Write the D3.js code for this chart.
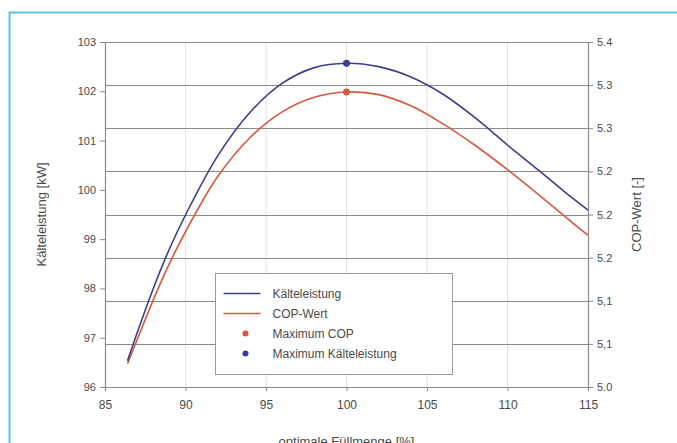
<!DOCTYPE html>
<html>
<head>
<meta charset="utf-8">
<script src="https://cdn.jsdelivr.net/npm/d3@7"></script>
<style>
  body { margin: 0; background: #fff; }
  svg { display: block; font-family: "Liberation Sans", Arial, sans-serif; }
</style>
</head>
<body>
<div id="chart"></div>
<script>

// data variables
var fuellmenge = [86.4, 87, 88, 89, 90, 92, 94, 96, 98, 100, 102, 104, 106, 108, 110, 112, 114, 115];
var kaelteleistung = [96.53, 97.10, 98.00, 98.80, 99.49, 100.69, 101.57, 102.16, 102.48, 102.57, 102.50, 102.29, 101.94, 101.46, 100.91, 100.38, 99.84, 99.59];
var copWert = [5.027, 5.055, 5.101, 5.143, 5.180, 5.244, 5.289, 5.319, 5.336, 5.342, 5.339, 5.326, 5.305, 5.280, 5.252, 5.222, 5.191, 5.176];

var xTicks = [85, 90, 95, 100, 105, 110, 115];
var leftTicks = [96, 97, 98, 99, 100, 101, 102, 103];
var rightTicks = [5.0, 5.05, 5.1, 5.15, 5.2, 5.25, 5.3, 5.35, 5.4];
var rightLabels = ["5.0", "5,1", "5,1", "5.2", "5.2", "5.2", "5.3", "5.3", "5.4"];

var legendItems = ["Kälteleistung", "COP-Wert", "Maximum COP", "Maximum Kälteleistung"];

// svg variables
var width = 677,
    height = 443;

var plot = {left: 105, right: 588, top: 42, bottom: 387};

var blue = "#3c3f8e",
    red = "#d9583c",
    gridColor = "#8a8a8a",
    textColor = "#4a4a4a";

var svg = d3.select("#chart")
  .append("svg")
  .attr("width", width)
  .attr("height", height);

// outer frame
svg.append("rect")
  .attr("x", 9.5)
  .attr("y", 12.5)
  .attr("width", 700)
  .attr("height", 500)
  .attr("fill", "#fff")
  .attr("stroke", "#55c1ec")
  .attr("stroke-width", 2);

/////////////////////////////
// scales
/////////////////////////////
var x = d3.scaleLinear().domain([85, 115]).range([plot.left, plot.right]);
var yLeft = d3.scaleLinear().domain([96, 103]).range([plot.bottom, plot.top]);
var yRight = d3.scaleLinear().domain([5.0, 5.4]).range([plot.bottom, plot.top]);

// vertical gridlines (faint)
svg.append("g")
  .selectAll("line")
  .data(xTicks.slice(1, -1))
  .enter()
  .append("line")
  .attr("x1", function(d) { return x(d); })
  .attr("x2", function(d) { return x(d); })
  .attr("y1", plot.top)
  .attr("y2", plot.bottom)
  .attr("stroke", "#e2e2e2")
  .attr("stroke-width", 1);

// horizontal gridlines follow the right axis
svg.append("g")
  .selectAll("line")
  .data(rightTicks)
  .enter()
  .append("line")
  .attr("x1", plot.left)
  .attr("x2", plot.right)
  .attr("y1", function(d) { return Math.round(yRight(d)) + 0.5; })
  .attr("y2", function(d) { return Math.round(yRight(d)) + 0.5; })
  .attr("stroke", gridColor)
  .attr("stroke-width", 1.2);

/////////////////////////////
// axes
/////////////////////////////
var xAxis = d3.axisBottom(x).tickValues(xTicks).tickSize(4).tickPadding(9);
var leftAxis = d3.axisLeft(yLeft).tickValues(leftTicks).tickSize(5).tickPadding(4)
  .tickFormat(d3.format("d"));
var rightAxis = d3.axisRight(yRight).tickValues(rightTicks).tickSize(5).tickPadding(4)
  .tickFormat(function(d, i) { return rightLabels[i]; });

function styleAxis(g) {
  g.select(".domain").attr("stroke", gridColor).attr("stroke-width", 1.2);
  g.selectAll(".tick line").attr("stroke", gridColor);
  g.selectAll("text").attr("fill", textColor).style("font-size", "11px");
}

svg.append("g")
  .attr("transform", "translate(0," + plot.bottom + ")")
  .call(xAxis)
  .call(styleAxis)
  .selectAll("text").style("font-size", "12px");

svg.append("g")
  .attr("transform", "translate(" + plot.left + ",0)")
  .call(leftAxis)
  .call(styleAxis);

svg.append("g")
  .attr("transform", "translate(" + plot.right + ",0)")
  .call(rightAxis)
  .call(styleAxis);

// axis titles
svg.append("text")
  .attr("transform", "translate(46," + ((plot.top + plot.bottom) / 2) + ") rotate(-90)")
  .attr("text-anchor", "middle")
  .attr("fill", textColor)
  .style("font-size", "13px")
  .text("Kälteleistung [kW]");

svg.append("text")
  .attr("transform", "translate(641," + ((plot.top + plot.bottom) / 2) + ") rotate(-90)")
  .attr("text-anchor", "middle")
  .attr("fill", textColor)
  .style("font-size", "13px")
  .text("COP-Wert [-]");

// bottom title is cut by the window edge, as in the original
svg.append("text")
  .attr("x", (plot.left + plot.right) / 2)
  .attr("y", 446)
  .attr("text-anchor", "middle")
  .attr("fill", textColor)
  .style("font-size", "13px")
  .text("optimale Füllmenge [%]");

/////////////////////////////
// lines
/////////////////////////////
var blueLine = d3.line()
  .x(function(d, i) { return x(fuellmenge[i]); })
  .y(function(d) { return yLeft(d); })
  .curve(d3.curveCatmullRom);

var redLine = d3.line()
  .x(function(d, i) { return x(fuellmenge[i]); })
  .y(function(d) { return yRight(d); })
  .curve(d3.curveCatmullRom);

svg.append("path")
  .datum(copWert)
  .attr("d", redLine)
  .attr("fill", "none")
  .attr("stroke", red)
  .attr("stroke-width", 1.6);

svg.append("path")
  .datum(kaelteleistung)
  .attr("d", blueLine)
  .attr("fill", "none")
  .attr("stroke", blue)
  .attr("stroke-width", 1.6);

// maximum markers
var iMaxCop = d3.maxIndex(copWert);
var iMaxKl = d3.maxIndex(kaelteleistung);

svg.append("circle")
  .attr("cx", x(fuellmenge[iMaxCop]))
  .attr("cy", yRight(copWert[iMaxCop]))
  .attr("r", 3.5)
  .attr("fill", red);

svg.append("circle")
  .attr("cx", x(fuellmenge[iMaxKl]))
  .attr("cy", yLeft(kaelteleistung[iMaxKl]))
  .attr("r", 3.5)
  .attr("fill", blue);

/////////////////////////////
// legend
/////////////////////////////
var legend = svg.append("g").attr("transform", "translate(215.5,273.5)");

legend.append("rect")
  .attr("width", 237)
  .attr("height", 101)
  .attr("fill", "#fff")
  .attr("stroke", "#9a9a9a")
  .attr("stroke-width", 1);

var rows = legend.selectAll(".row")
  .data(legendItems)
  .enter()
  .append("g")
  .attr("class", "row")
  .attr("transform", function(d, i) { return "translate(0," + (20 + i * 20) + ")"; });

rows.each(function(d, i) {
  var g = d3.select(this);
  var c = (i == 0 || i == 3) ? blue : red;
  if (i < 2) {
    g.append("line")
      .attr("x1", 8).attr("x2", 45)
      .attr("y1", 0).attr("y2", 0)
      .attr("stroke", c)
      .attr("stroke-width", 1.6);
  } else {
    g.append("circle")
      .attr("cx", 30).attr("cy", 0)
      .attr("r", 3)
      .attr("fill", c);
  }
  g.append("text")
    .attr("x", 57)
    .attr("y", 4)
    .attr("fill", textColor)
    .style("font-size", "12px")
    .text(d);
});

</script>
</body>
</html>
